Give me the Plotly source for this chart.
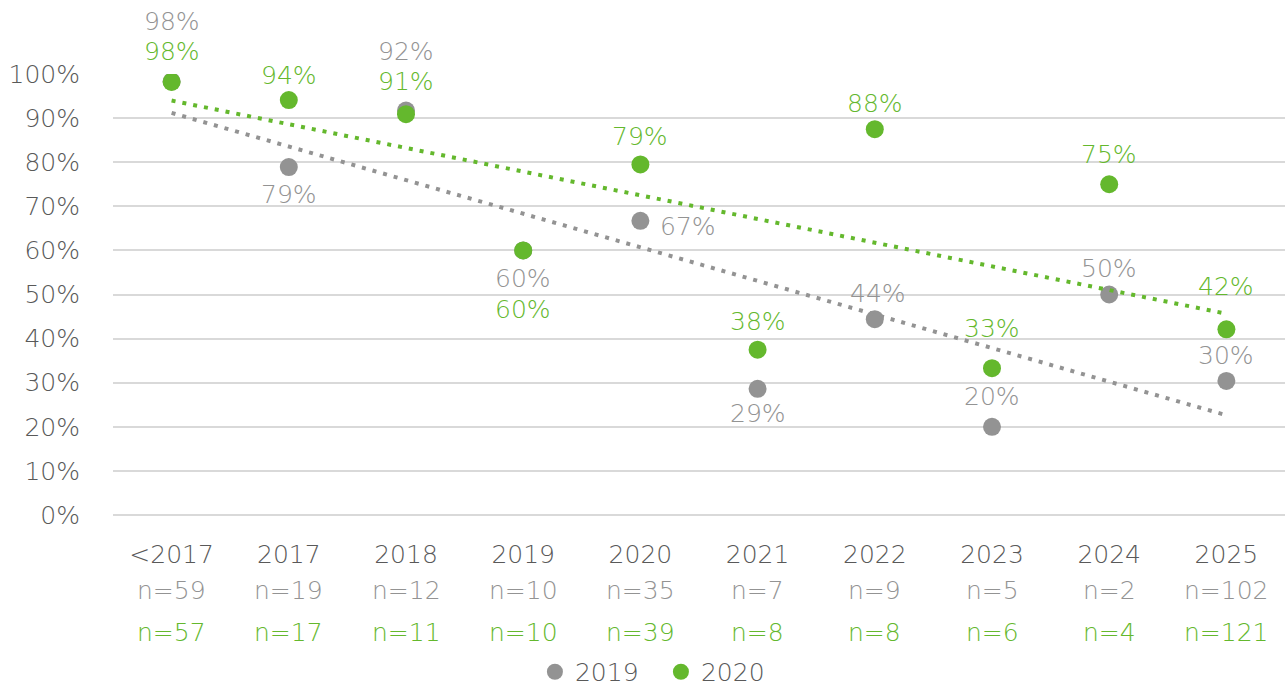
import numpy as np
import plotly.graph_objects as go

categories = ["<2017", "2017", "2018", "2019", "2020", "2021", "2022", "2023", "2024", "2025"]
values_2019 = [98.3, 78.9, 91.7, 60.0, 66.7, 28.6, 44.4, 20.0, 50.0, 30.4]
values_2020 = [98.2, 94.1, 90.9, 60.0, 79.49, 37.5, 87.5, 33.3, 75.0, 42.1]
n_2019 = [59, 19, 12, 10, 35, 7, 9, 5, 2, 102]
n_2020 = [57, 17, 11, 10, 39, 8, 8, 6, 4, 121]
y_ticks = [0, 10, 20, 30, 40, 50, 60, 70, 80, 90, 100]

# label placement (style only): (xshift, yshift) in px
off_2019 = [(0, 60), (0, -27), (0, 59), (0, -28), (48, -6), (0, -25), (3, 26), (0, 30), (0, 26), (0, 25)]
off_2020 = [(0, 30), (0, 25), (0, 33), (0, -59), (0, 28), (0, 28), (0, 26), (0, 40), (0, 30), (0, 43)]

GRAY = "#939393"
GREEN = "#64b82d"
TXT = "#595959"
FONT = "DejaVu Sans ExtraLight, DejaVu Sans Light, DejaVu Sans"
FS = 25

fig = go.Figure()
fig.add_trace(go.Scatter(x=categories, y=values_2019, mode="markers", name="2019",
                         marker=dict(color=GRAY, size=18)))
fig.add_trace(go.Scatter(x=categories, y=values_2020, mode="markers", name="2020",
                         marker=dict(color=GREEN, size=18)))

idx = np.arange(len(categories))
for vals, col in ((values_2019, GRAY), (values_2020, GREEN)):
    a, b = np.polyfit(idx, vals, 1)
    fig.add_trace(go.Scatter(x=[categories[0], categories[-1]], y=[b, a * idx[-1] + b],
                             mode="lines", showlegend=False, hoverinfo="skip",
                             line=dict(color=col, width=4, dash="4px,7px")))

ann = []
for i, c in enumerate(categories):
    for vals, offs, col in ((values_2019, off_2019, GRAY), (values_2020, off_2020, GREEN)):
        ann.append(dict(x=i, y=vals[i], xref="x", yref="y", text=f"{vals[i]:.0f}%",
                        showarrow=False, xshift=offs[i][0], yshift=offs[i][1],
                        font=dict(color=col, size=FS, family=FONT)))
    ann.append(dict(x=i, y=0, xref="x", yref="y", text=f"n={n_2019[i]}", showarrow=False,
                    yshift=-75, font=dict(color=GRAY, size=FS, family=FONT)))
    ann.append(dict(x=i, y=0, xref="x", yref="y", text=f"n={n_2020[i]}", showarrow=False,
                    yshift=-117, font=dict(color=GREEN, size=FS, family=FONT)))

fig.update_layout(
    width=1286, height=686,
    margin=dict(l=113, r=1, t=74, b=171, autoexpand=False),
    paper_bgcolor="white", plot_bgcolor="white",
    font=dict(family=FONT, size=FS, color=TXT),
    annotations=ann,
    showlegend=True,
    legend=dict(orientation="h", x=0.36, xanchor="left", y=-0.356, yanchor="middle",
                font=dict(size=FS, color=TXT, family=FONT), itemwidth=30,
                entrywidth=81, entrywidthmode="pixels", tracegroupgap=0),
)
fig.update_xaxes(type="category", categoryorder="array", categoryarray=categories,
                 range=[-0.5, len(categories) - 0.5], showgrid=False, showline=False,
                 zeroline=False, ticks="", ticklabelstandoff=22, automargin=False,
                 tickfont=dict(size=FS, color=TXT, family=FONT))
fig.update_yaxes(range=[0, 100], tickvals=y_ticks, ticktext=[f"{v}%" for v in y_ticks],
                 showgrid=True, gridcolor="#d9d9d9", gridwidth=2, zeroline=True,
                 zerolinecolor="#d9d9d9", zerolinewidth=2, showline=False, ticks="",
                 ticklabelstandoff=32, automargin=False,
                 tickfont=dict(size=FS, color=TXT, family=FONT))

fig.write_html("out.html", config={"displayModeBar": False},
               post_script="document.body.style.margin='0';")
